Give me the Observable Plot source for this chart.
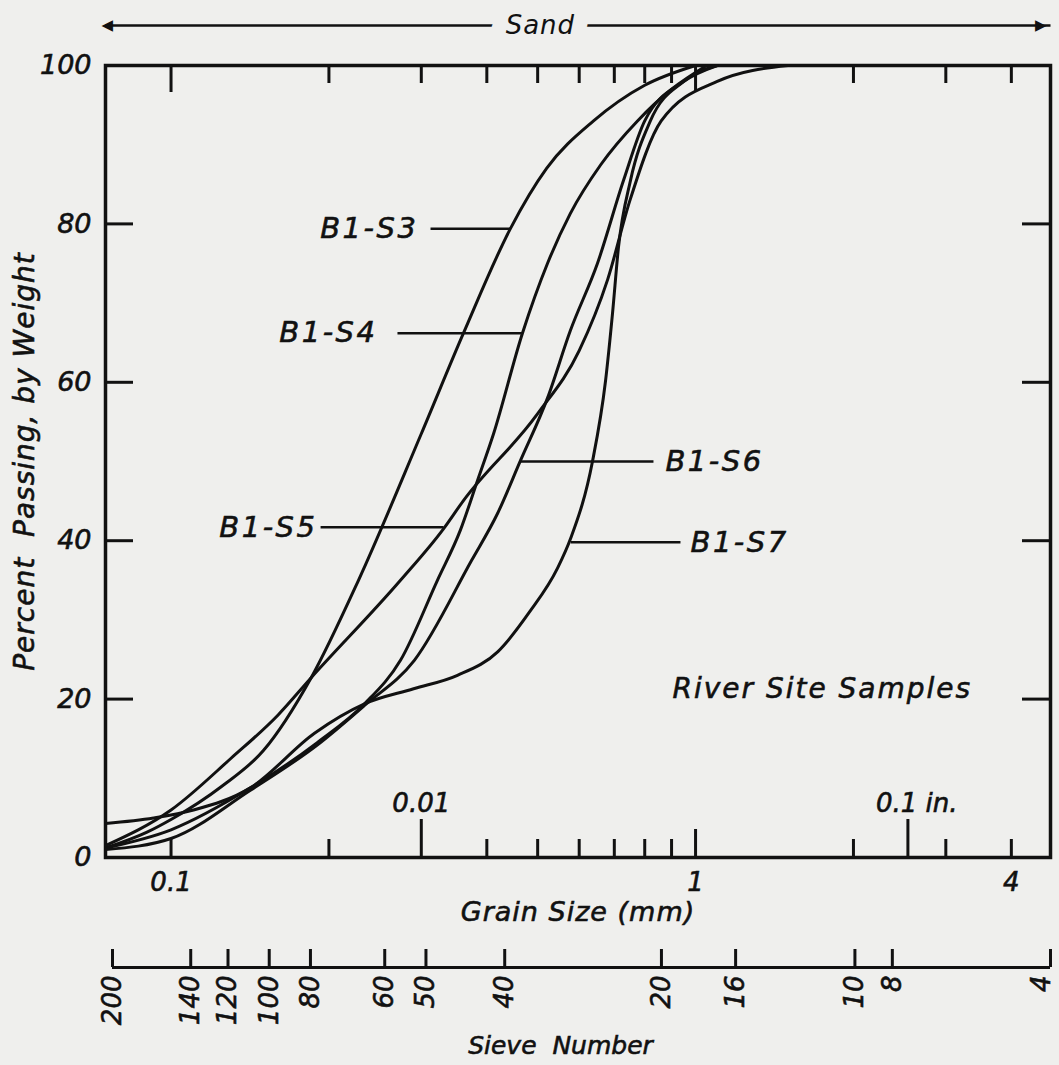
<!DOCTYPE html>
<html><head><meta charset="utf-8">
<script src="https://cdn.jsdelivr.net/npm/d3@7"></script>
<script src="https://cdn.jsdelivr.net/npm/@observablehq/plot@0.6"></script>
<style>
html,body{margin:0;padding:0;background:#efefed;}
#chart svg{display:block;}
</style></head><body><div id="chart"></div>
<script>
// ---- data (grain size in mm, percent passing by weight) ----
const s3 = [[0.075,1.2],[0.09,3.2],[0.1,4.8],[0.125,9],[0.15,13.5],[0.185,22.7],[0.2277,35],[0.3,53.5],[0.361,66.2],[0.4436,79.4],[0.52,87],[0.639,93],[0.8,97.5],[1.0,100]];
const s4 = [[0.075,1.2],[0.1,3.5],[0.1417,8.8],[0.19,14.5],[0.2338,19.4],[0.2738,24.9],[0.322,35],[0.356,41.3],[0.384,47.6],[0.412,53.5],[0.4677,66.2],[0.522,75],[0.577,81.3],[0.66,87.5],[0.775,93],[0.9,97],[1.05,100]];
const s5 = [[0.075,1.5],[0.1,6],[0.13,12.5],[0.16,18],[0.185,22.7],[0.2738,35],[0.3307,41.5],[0.3604,45],[0.4996,56],[0.6,64],[0.68,73],[0.75,83],[0.86,93],[1.1,98],[1.5,100]];
const s6 = [[0.075,1.0],[0.1,2.4],[0.1417,8.5],[0.19,14.2],[0.2338,19.2],[0.291,24.9],[0.374,37.5],[0.419,43.4],[0.4636,50.1],[0.522,58],[0.577,66.5],[0.65,75],[0.729,85.5],[0.80,93],[0.95,98],[1.1,100]];
const s7 = [[0.075,4.3],[0.0926,5],[0.1104,6],[0.1417,8.8],[0.1877,15.7],[0.2338,19.4],[0.29,21.3],[0.3516,23],[0.42,26],[0.4825,31],[0.5453,36.5],[0.578,40.3],[0.636,50],[0.6736,60.2],[0.6945,68.7],[0.7128,77],[0.7516,85.5],[0.82,93],[0.95,98],[1.1,100]];
const sampleNames = ["B1-S3","B1-S4","B1-S5","B1-S6","B1-S7"];
const sampleData = [s3, s4, s5, s6, s7];

// curve labels (annotation positions)
const labelPct = [79.4, 66.2, 41.7, 50.0, 39.8];
const labelTextMm = [0.2962, 0.2475, 0.1902, 0.8762, 0.978];
const leaderFromMm = [0.3124, 0.2702, 0.1928, 0.8313, 0.9359];
const leaderToMm = [0.4436, 0.4677, 0.3307, 0.4636, 0.578];
const labelAnchor = ["end","end","end","start","start"];

// axes
const sandRange = [0.075, 4.75];
const sandLabelMm = 0.506;
const yLabelTicks = [0,20,40,60,80,100];
const yInnerTicks = [20,40,60,80];
const xBottomMinor = [0.1,0.2,0.4,0.5,0.6,0.7,0.8,0.9,2,3,4];
const xTopMinor = [0.2,0.3,0.4,0.5,0.6,0.7,0.8,0.9,2,3,4];
const xMajor = [1];
const inchMm = [0.3, 2.54];
const inchLabels = ["0.01", "0.1 in."];
const xTickLabels = [0.1, 1, 4];
const sieveNo = [200,140,120,100,80,60,50,40,20,16,10,8,4];
const sieveMm = [0.075,0.106,0.125,0.150,0.180,0.250,0.300,0.425,0.850,1.18,2.00,2.36,4.75];
const riverLabel = {text: "River Site Samples", mm: 0.9037, pct: 21.3};

// ---- build ----
const rows = sampleNames.flatMap((name, i) => sampleData[i].map(([mm, pct]) => ({sample: name, mm, pct})));
const labels = sampleNames.map((name, i) => ({name, pct: labelPct[i], tx: labelTextMm[i], lx1: leaderFromMm[i], lx2: leaderToMm[i], anchor: labelAnchor[i]}));
const inch = inchMm.map((mm, i) => ({mm, label: inchLabels[i]}));

const W = 1059, H1 = 935, mL = 105, mR = 9, mT = 65, mB = 78;
const FH = H1 - mT - mB, FW = W - mL - mR;
const ink = "#111";
const bg = "#efefed";
const font = {fontFamily: "'DejaVu Sans', sans-serif", fontStyle: "italic", fontSize: "28px", background: "transparent", color: ink, overflow: "visible"};

const main = Plot.plot({
  width: W, height: H1, marginLeft: mL, marginRight: mR, marginTop: mT, marginBottom: mB,
  style: font,
  x: {type: "log", domain: sandRange, axis: null},
  y: {domain: [0, 100], axis: null},
  marks: [
    Plot.frame({stroke: ink, strokeWidth: 3.5}),
    // ticks
    Plot.tickX(xBottomMinor, {x: d => d, insetTop: FH - 18, strokeWidth: 3, stroke: ink}),
    Plot.tickX(xMajor, {x: d => d, insetTop: FH - 28, strokeWidth: 3, stroke: ink}),
    Plot.tickX(inchMm, {x: d => d, insetTop: FH - 38, strokeWidth: 3, stroke: ink}),
    Plot.tickX(xTopMinor, {x: d => d, insetBottom: FH - 18, strokeWidth: 3, stroke: ink}),
    Plot.tickX([0.1, 1], {x: d => d, insetBottom: FH - 27, strokeWidth: 3, stroke: ink}),
    Plot.tickY(yInnerTicks, {y: d => d, insetRight: FW - 28, strokeWidth: 3, stroke: ink}),
    Plot.tickY(yInnerTicks, {y: d => d, insetLeft: FW - 28, strokeWidth: 3, stroke: ink}),
    Plot.axisY({ticks: yLabelTicks, tickSize: 0, tickPadding: 14, label: null, fontSize: 27}),
    Plot.axisX({ticks: xTickLabels, tickSize: 0, tickPadding: 15, label: null, tickFormat: d => String(d), fontSize: 26}),
    Plot.text(inch.slice(0, 1), {x: "mm", y: 0, text: "label", dy: -54, textAnchor: "middle", fontSize: 26}),
    Plot.text(inch.slice(1), {x: "mm", y: 0, text: "label", dy: -54, dx: -32, textAnchor: "start", fontSize: 26}),
    // axis titles
    Plot.text(["Percent  Passing, by Weight"], {frameAnchor: "left", dx: -80, rotate: -90, textAnchor: "middle", lineAnchor: "middle", fontSize: 28}),
    Plot.text(["Grain Size (mm)"], {frameAnchor: "bottom", dy: 55, textAnchor: "middle", lineAnchor: "middle", fontSize: 27}),
    // sand arrow
    Plot.link([sandRange], {x1: d => d[0], x2: d => d[1], y1: 100, y2: 100, dy: -40, stroke: ink, strokeWidth: 2.5, clip: false}),
    Plot.text([sandRange[0]], {x: d => d, y: 100, dy: -40, dx: -4, text: () => "\u25C0", textAnchor: "start", lineAnchor: "middle", fontStyle: "normal", fontSize: 15}),
    Plot.text([sandRange[1]], {x: d => d, y: 100, dy: -40, dx: -4, text: () => "\u25B6", textAnchor: "end", lineAnchor: "middle", fontStyle: "normal", fontSize: 15}),
    Plot.text(["Sand"], {x: sandLabelMm, y: 100, dy: -40, text: d => d, stroke: bg, strokeWidth: 30, paintOrder: "stroke", fill: ink, fontSize: 26, textAnchor: "middle", lineAnchor: "middle"}),
    // curves
    Plot.line(rows, {x: "mm", y: "pct", z: "sample", curve: "monotone-x", stroke: ink, strokeWidth: 3}),
    // labels
    Plot.link(labels, {x1: "lx1", x2: "lx2", y1: "pct", y2: "pct", stroke: ink, strokeWidth: 2.5}),
    Plot.text(labels.filter(d => d.anchor === "end"), {x: "tx", y: "pct", text: "name", textAnchor: "end", lineAnchor: "middle", fontSize: 29}),
    Plot.text(labels.filter(d => d.anchor === "start"), {x: "tx", y: "pct", text: "name", textAnchor: "start", lineAnchor: "middle", fontSize: 29}),
    Plot.text([riverLabel], {x: "mm", y: "pct", text: "text", textAnchor: "start", lineAnchor: "middle", fontSize: 28})
  ]
});

const sieveRows = sieveNo.map((n, i) => ({n, mm: sieveMm[i]}));
const sieve = Plot.plot({
  width: W, height: 130, marginLeft: 112, marginRight: 9, marginTop: 14, marginBottom: 98,
  style: font,
  x: {type: "log", domain: [sieveMm[0], sieveMm[sieveMm.length - 1]], axis: null},
  y: {domain: [0, 1], axis: null},
  marks: [
    Plot.ruleY([0], {stroke: ink, strokeWidth: 3}),
    Plot.tickX(sieveRows, {x: "mm", stroke: ink, strokeWidth: 3}),
    Plot.text(sieveRows.slice(0, -1), {x: "mm", y: 0, text: d => String(d.n), rotate: -90, textAnchor: "end", lineAnchor: "middle", dy: 8, fontSize: 26}),
    Plot.text(sieveRows.slice(-1), {x: "mm", y: 0, text: d => String(d.n), rotate: -90, textAnchor: "end", lineAnchor: "middle", dy: 8, dx: -9, fontSize: 26}),
    Plot.text(["Sieve  Number"], {frameAnchor: "bottom", dy: 78, dx: -21, textAnchor: "middle", lineAnchor: "middle", fontSize: 25})
  ]
});

// wide, slightly heavy technical-lettering look
const spacing = [[/^B1-S/, "2.5px"], [/^River/, "2px"], [/^Percent/, "1px"], [/^Grain/, "1px"], [/^Sand$/, "1px"]];
for (const svg of [main, sieve]) {
  d3.select(svg).selectAll("text").each(function() {
    const t = this.textContent;
    const sel = d3.select(this);
    for (const [re, ls] of spacing) if (re.test(t)) sel.attr("letter-spacing", ls);
    if (t !== "Sand" && !/[\u25C0\u25B6]/.test(t)) sel.attr("stroke", ink).attr("stroke-width", 0.6);
  });
}

const el = document.getElementById("chart");
el.append(main, sieve);
</script>
</body></html>
